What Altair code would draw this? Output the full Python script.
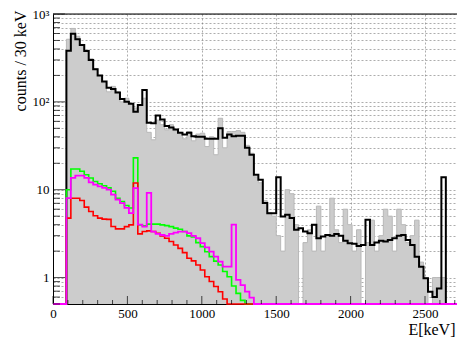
import altair as alt
import pandas as pd

# ---------------- data (30 keV bins, lower edges) ----------------
bin_low = list(range(0, 2730, 30))  # 91 bins, 0 .. 2700

lead = [0, 0, 0]  # 0-90 keV empty

data_counts = lead + [
    516, 685, 558, 450, 390, 310, 240, 200, 165, 130,
    150, 130, 100, 110, 95, 85, 92, 110, 45, 37,
    62, 55, 48, 55, 47, 45, 38, 46, 36, 43,
    44, 31, 40, 25, 65, 30, 46, 46, 47, 45,
    32, 26, 14, 12, 7.5, 5.5, 5, 3, 2, 10,
    9, 4, 0, 2.5, 3.5, 2, 6.5, 2, 3, 8,
    3.5, 2.5, 6, 4, 2, 3.5, 0, 2.5, 4.5, 2,
    3, 6, 5, 2, 6, 4, 2.5, 3, 4.5, 1.5,
    1, 0, 1, 1, 1, 0, 0, 0]

total_model = lead + [
    381, 595, 515, 445, 380, 300, 235, 200, 170, 145,
    140, 128, 108, 100, 95, 77, 92, 136, 58, 57,
    70, 63, 53, 51, 48.5, 44.5, 42.5, 44.5, 40.6, 40,
    40, 38, 38, 38, 50, 39, 42.5, 40.6, 41, 41,
    30, 25, 14.8, 13, 7.05, 5.4, 5.4, 13.9, 4.95, 5.2,
    4.75, 3.49, 3.65, 3.34, 3.2, 4.0, 2.8, 2.93, 3.06, 3.0,
    3.14, 3.0, 2.63, 2.46, 2.43, 2.29, 2.35, 4.54, 2.35, 2.5,
    2.63, 2.58, 2.68, 2.8, 3.0, 3.06, 2.68, 2.35, 1.73, 1.33,
    0.98, 0.69, 0.6, 0.75, 13.9, 0, 0, 0]

green_comp = lead + [
    10.0, 17.2, 17.2, 16.2, 14.8, 13.6, 12.4, 11.7, 11.1, 10.5,
    9.6, 8.0, 7.35, 6.6, 6.2, 23, 3.98, 3.88, 4.06, 4.06,
    4.06, 3.98, 3.9, 3.8, 3.65, 3.55, 3.34, 2.98, 2.9, 2.5,
    2.25, 1.97, 1.73, 1.54, 1.39, 1.17, 1.02, 0.8, 0.66, 0.55] + [0] * 48

magenta_comp = lead + [
    8.0, 13.6, 14.5, 14.5, 13.6, 12.1, 11.4, 10.9, 10.5, 10.0,
    8.8, 7.7, 7.05, 6.2, 5.4, 10.4, 4.0, 3.8, 9.2, 3.34,
    3.14, 3.05, 2.98, 3.14, 3.25, 3.34, 3.34, 3.2, 2.98, 2.8,
    2.46, 2.21, 1.97, 1.73, 1.52, 1.33, 1.33, 4.0, 0.94, 0.82,
    0.69, 0.59] + [0] * 46

red_comp = lead + [
    4.75, 8.0, 8.0, 7.55, 6.34, 5.65, 5.05, 4.75, 4.62, 4.6,
    3.81, 3.58, 3.58, 3.8, 3.98, 11.9, 3.14, 3.34, 3.4, 3.34,
    3.2, 2.98, 2.8, 2.57, 2.35, 2.15, 1.92, 1.66, 1.55, 1.39,
    1.22, 1.02, 0.9, 0.79, 0.69, 0.57] + [0] * 52

y_major = [1, 10, 100, 1000]
y_minor = [0.5, 0.6, 0.7, 0.8, 0.9, 2, 3, 4, 5, 6, 7, 8, 9,
           20, 30, 40, 50, 60, 70, 80, 90, 200, 300, 400, 500, 600, 700, 800, 900]
x_major = [0, 500, 1000, 1500, 2000, 2500]
x_minor = [e for e in range(100, 2800, 100) if e % 500 != 0]

# ---------------- table ----------------
rows = []
for name, vals in [("data", data_counts), ("total", total_model), ("green", green_comp),
                   ("magenta", magenta_comp), ("red", red_comp)]:
    for lo, v in zip(bin_low, vals):
        rows.append({"series": name, "E": lo, "v": v})
    rows.append({"series": name, "E": bin_low[-1] + 30, "v": vals[-1]})
df = pd.DataFrame(rows)

FONT = "Liberation Serif"
YMIN = 0.5

xs = alt.Scale(domain=[0, 2715], nice=False, zero=False)
ys = alt.Scale(type="log", domain=[YMIN, 1000], nice=False)

xaxis = alt.Axis(values=x_major, grid=True, gridColor="#777777", gridDash=[2, 2], gridOpacity=0.6,
                 ticks=False, domainColor="black", domainWidth=1, format="d",
                 labelFont=FONT, labelFontSize=13, labelColor="black", labelPadding=3,
                 labelFlush=False, labelOverlap=False,
                 title="E[keV]", titleFont=FONT, titleFontSize=16, titleFontWeight="normal",
                 titleColor="black", titleX=402, titleY=30, titleAlign="right",
                 titleBaseline="alphabetic", titleAnchor="end")

yaxis = alt.Axis(values=y_minor + y_major, grid=True, gridColor="#777777", gridDash=[2, 2],
                 gridOpacity=0.6, ticks=False, domainColor="black", domainWidth=1,
                 labelFont=FONT, labelFontSize=13, labelColor="black", labelPadding=4,
                 labelOverlap=False, labelFlush=False,
                 labelExpr="datum.value == 1000 ? '10³' : datum.value == 100 ? '10²' : "
                           "datum.value == 10 ? '10' : datum.value == 1 ? '1' : ''",
                 title="counts / 30 keV", titleFont=FONT, titleFontSize=16,
                 titleFontWeight="normal", titleColor="black", titleAngle=-90,
                 titleX=-33, titleY=-4, titleAlign="right", titleBaseline="middle")

X = alt.X("E:Q", scale=xs, axis=xaxis)
Y = alt.Y("vc:Q", scale=ys, axis=yaxis)

base = alt.Chart(df).transform_calculate(vc=f"max(datum.v, {YMIN})")

area = base.transform_filter("datum.series == 'data'").mark_area(
    interpolate="step-after", color="#cccccc", clip=True).encode(
    x=X, y=Y, y2=alt.Y2(datum=YMIN))
area_edge = base.transform_filter("datum.series == 'data'").mark_line(
    interpolate="step-after", color="#b8b8b8", strokeWidth=1, clip=True).encode(x=X, y=Y)

def step_line(name, color, w):
    return base.transform_filter(f"datum.series == '{name}'").mark_line(
        interpolate="step-after", color=color, strokeWidth=w, clip=False).encode(x=X, y=Y)

black = step_line("total", "black", 2)
green = step_line("green", "#00ff00", 1.6)
magenta = step_line("magenta", "#ff00ff", 1.8)
red = step_line("red", "#ff0000", 1.6)

top = alt.Chart(pd.DataFrame({"t": [1000]})).mark_rule(color="black", strokeWidth=1).encode(
    y=alt.Y("t:Q", scale=ys, axis=yaxis))

def yticks(vals, L):
    return alt.Chart(pd.DataFrame({"t": vals})).mark_tick(
        orient="horizontal", color="black", size=L, thickness=1).encode(
        y=alt.Y("t:Q", scale=ys, axis=yaxis), x=alt.value(L / 2))

def xticks(vals, L):
    return alt.Chart(pd.DataFrame({"e": vals})).mark_tick(
        orient="vertical", color="black", size=L, thickness=1).encode(
        x=alt.X("e:Q", scale=xs, axis=xaxis), y=alt.value(290 - L / 2))

chart = alt.layer(
    area, area_edge, black, green, red, magenta, top,
    yticks(y_major, 12), yticks(y_minor, 7), xticks(x_major, 8), xticks(x_minor, 4)
).properties(
    width=404, height=290,
    padding={"left": 53, "top": 14, "right": 0, "bottom": 37},
    autosize="none",
).configure_view(stroke=None).configure(background="white").configure_axis(
    labelFont=FONT, titleFont=FONT)

chart.save("out.html", embed_options={"renderer": "svg", "actions": False})
